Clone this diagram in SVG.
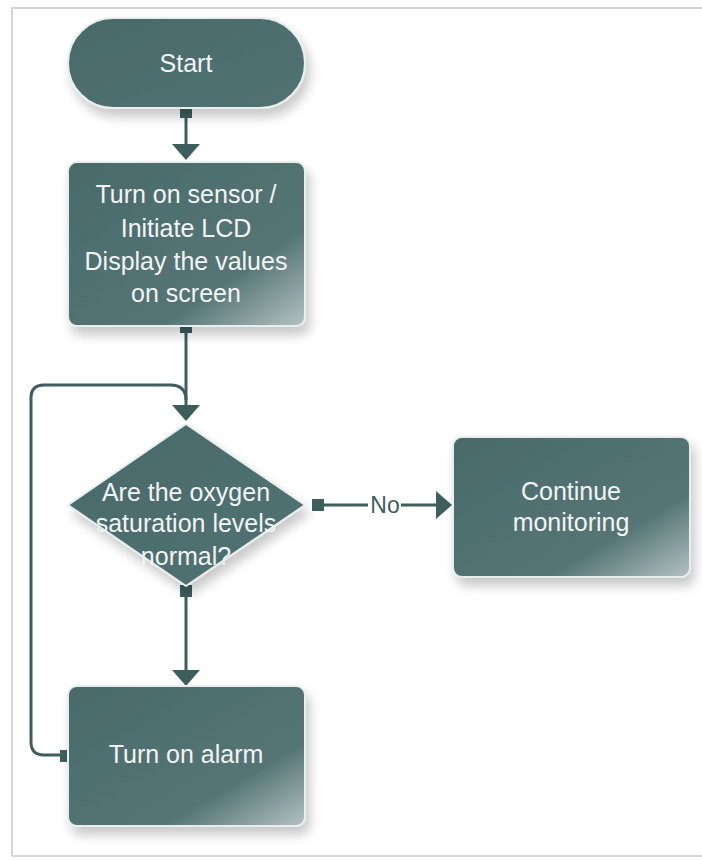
<svg xmlns="http://www.w3.org/2000/svg" width="702" height="861" viewBox="0 0 702 861">
<defs>
<linearGradient id="g" x1="0" y1="0" x2="1" y2="1">
<stop offset="0" stop-color="#4a6a6a"/>
<stop offset="0.7" stop-color="#557575"/>
<stop offset="1" stop-color="#b5c2c2"/>
</linearGradient>
<linearGradient id="gs" x1="0" y1="0" x2="1" y2="1">
<stop offset="0" stop-color="#4a6a6a"/>
<stop offset="1" stop-color="#527272"/>
</linearGradient>
<filter id="sh" x="-20%" y="-20%" width="140%" height="150%">
<feGaussianBlur in="SourceAlpha" stdDeviation="6"/>
<feOffset dx="4" dy="8"/>
<feComponentTransfer><feFuncA type="linear" slope="0.22"/></feComponentTransfer>
<feMerge><feMergeNode/><feMergeNode in="SourceGraphic"/></feMerge>
</filter>
</defs>
<style>
.node{fill:url(#g);stroke:#e8eeee;stroke-width:2;filter:url(#sh)}
.txt{font-family:"Liberation Sans",Arial,sans-serif;font-size:25px;fill:#f2f4f4;text-anchor:middle}
.ln{stroke:#3e5e5e;stroke-width:3;fill:none}
.sq{fill:#3e5e5e}
.ah{fill:#3e5e5e}
</style>
<rect x="0" y="0" width="702" height="861" fill="#ffffff"/>
<path d="M12,856 L12,8 L702,8" fill="none" stroke="#d4d4d4" stroke-width="2"/>
<line x1="12" y1="856" x2="702" y2="856" stroke="#d8d8d8" stroke-width="2"/>

<g id="connectors">
<line class="ln" x1="186" y1="108" x2="186" y2="146"/>
<path class="ah" d="M172,144 L200,144 L186,160 Z"/>
<rect class="sq" x="180" y="106" width="12" height="12"/>

<line class="ln" x1="186" y1="326" x2="186" y2="408"/>
<path class="ah" d="M172,405 L200,405 L186,421 Z"/>
<rect class="sq" x="180" y="321" width="12" height="12"/>

<path class="ln" d="M62,755 L44,755 Q31,755 31,742 L31,398 Q31,385 44,385 L170,385 Q186,385 186,400"/>
<rect class="sq" x="60" y="750" width="10" height="12"/>

<line class="ln" x1="318" y1="505" x2="368" y2="505"/>
<line class="ln" x1="401" y1="505" x2="438" y2="505"/>
<path class="ah" d="M436,491 L436,519 L452,505 Z"/>
<rect class="sq" x="312" y="499" width="12" height="12"/>
<text class="txt" x="385" y="513" style="font-size:23px;fill:#3e5e5e">No</text>

<line class="ln" x1="186" y1="592" x2="186" y2="672"/>
<path class="ah" d="M172,670 L200,670 L186,686 Z"/>
<rect class="sq" x="180" y="585" width="12" height="12"/>
</g>

<g id="start">
<rect x="68" y="18" width="237" height="90" rx="45" ry="45" fill="url(#gs)" stroke="#e8eeee" stroke-width="2" filter="url(#sh)"/>
<text class="txt" x="186" y="72">Start</text>
</g>

<g id="init">
<rect class="node" x="68" y="162" width="237" height="164" rx="9"/>
<text class="txt" x="186" y="203">Turn on sensor /</text>
<text class="txt" x="186" y="237">Initiate LCD</text>
<text class="txt" x="186" y="270">Display the values</text>
<text class="txt" x="186" y="302">on screen</text>
</g>

<g id="decision">
<path d="M186,424 L305,505 L186,586 L68,505 Z" fill="url(#gs)" stroke="#e8eeee" stroke-width="2" stroke-linejoin="round" filter="url(#sh)"/>
<text class="txt" x="186" y="501">Are the oxygen</text>
<text class="txt" x="186" y="532">saturation levels</text>
<text class="txt" x="186" y="565">normal?</text>
</g>

<g id="continue">
<rect class="node" x="453" y="437" width="237" height="140" rx="9"/>
<text class="txt" x="571" y="500">Continue</text>
<text class="txt" x="571" y="531">monitoring</text>
</g>

<g id="alarm">
<rect class="node" x="68" y="686" width="237" height="140" rx="9"/>
<text class="txt" x="186" y="763">Turn on alarm</text>
</g>
</svg>
